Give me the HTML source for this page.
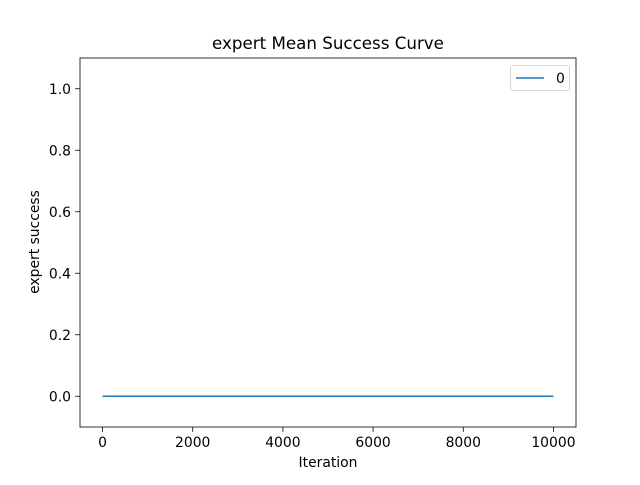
<!DOCTYPE html>
<html><head><meta charset="utf-8"><style>
body{margin:0;background:#fff;}
svg{font-family:"DejaVu Sans","Liberation Sans",sans-serif;}
</style></head><body>
<svg width="640" height="480" viewBox="0 0 640 480" id="svg">
<rect width="640" height="480" fill="#fff"/>
<text x="328" y="49" font-size="16.7" text-anchor="middle">expert Mean Success Curve</text>
<g id="ticks"></g>
<path id="line" fill="none" stroke="#1f77b4" stroke-width="1.5"/>
<rect x="80" y="58" width="496" height="369" fill="none" stroke="#000" stroke-width="0.8"/>
<text x="328" y="467" font-size="13.9" text-anchor="middle">Iteration</text>
<text x="0" y="0" font-size="13.9" text-anchor="middle" transform="translate(39,242) rotate(-90)">expert success</text>
<g>
<rect x="510.5" y="65.5" width="59" height="25" rx="2" fill="#fff" stroke="#ccc" stroke-width="0.8"/>
<line x1="516" y1="78" x2="544" y2="78" stroke="#1f77b4" stroke-width="1.5"/>
<text x="556" y="83" font-size="13.9">0</text>
</g>
</svg>
<script>
const iterations=[0,10000];
const successValues=[0,0];
const xTicks=[0,2000,4000,6000,8000,10000];
const yTicks=[0.0,0.2,0.4,0.6,0.8,1.0];
const L=80,R=576,T=58,B=427;
const xMin=-500,xMax=10500,yMin=-0.1,yMax=1.1;
function sx(v){return L+(v-xMin)/(xMax-xMin)*(R-L);}
function sy(v){return B-(v-yMin)/(yMax-yMin)*(B-T);}
const ns="http://www.w3.org/2000/svg";
const g=document.getElementById('ticks');
xTicks.forEach(t=>{
const l=document.createElementNS(ns,'line');
l.setAttribute('x1',sx(t));l.setAttribute('x2',sx(t));l.setAttribute('y1',B);l.setAttribute('y2',B+4.9);l.setAttribute('stroke','#000');l.setAttribute('stroke-width','0.8');


g.appendChild(l);
const tx=document.createElementNS(ns,'text');
tx.setAttribute('x',sx(t));tx.setAttribute('y',B+20);tx.setAttribute('font-size','13.9');tx.setAttribute('text-anchor','middle');tx.textContent=t;


g.appendChild(tx);
});
yTicks.forEach(t=>{
const l=document.createElementNS(ns,'line');
l.setAttribute('x1',L-4.9);l.setAttribute('x2',L);l.setAttribute('y1',sy(t));l.setAttribute('y2',sy(t));l.setAttribute('stroke','#000');l.setAttribute('stroke-width','0.8');


g.appendChild(l);
const tx=document.createElementNS(ns,'text');
tx.setAttribute('x',L-9);tx.setAttribute('y',sy(t)+5);tx.setAttribute('font-size','13.9');tx.setAttribute('text-anchor','end');tx.textContent=t.toFixed(1);


g.appendChild(tx);
});
document.getElementById('line').setAttribute('d',iterations.map((x,i)=>(i?'L':'M')+sx(x)+','+sy(successValues[i])).join(' '));
</script>
</body></html>
